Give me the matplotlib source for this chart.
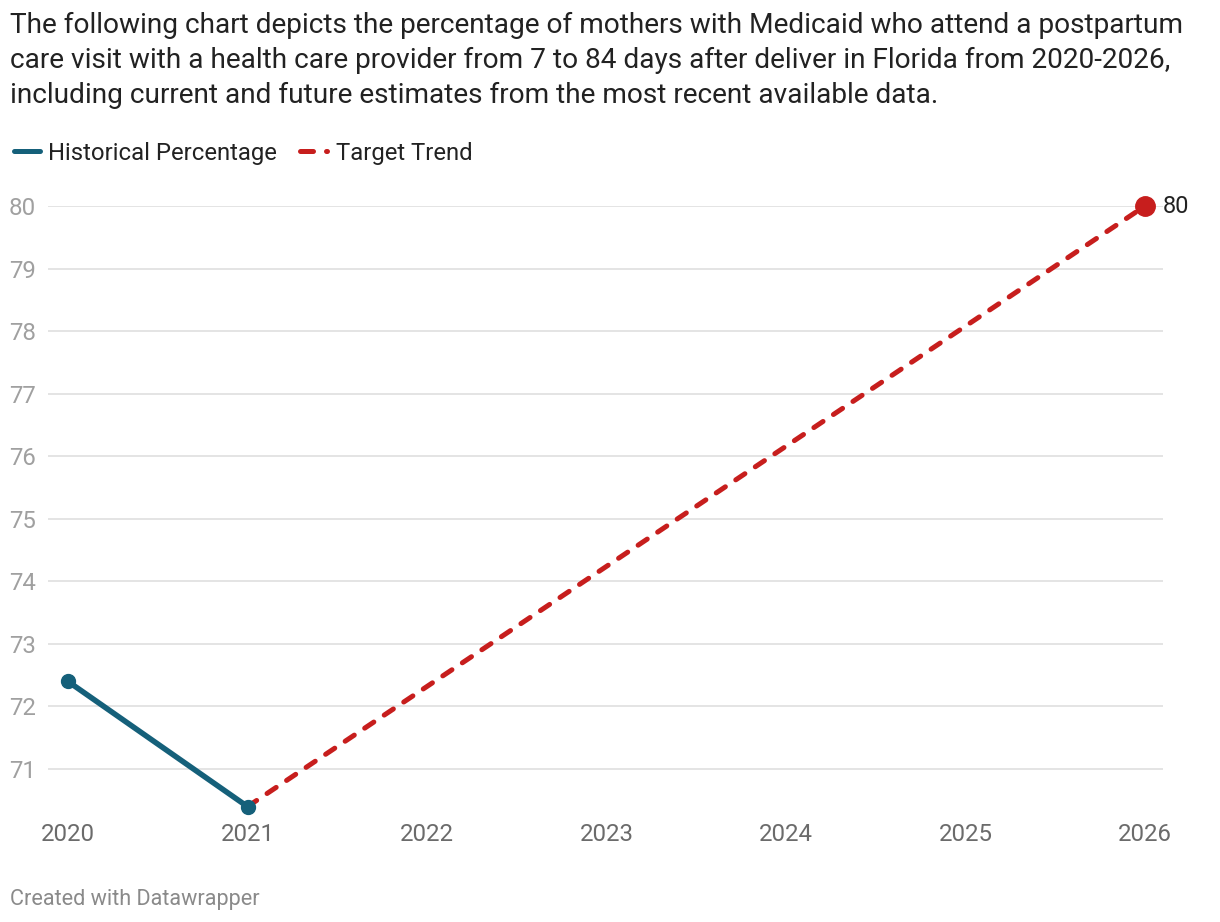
import matplotlib
matplotlib.use("Agg")
import matplotlib.pyplot as plt
from matplotlib.lines import Line2D

plt.rcParams['font.family'] = ['Roboto', 'DejaVu Sans']

hist_years = [2020, 2021]
hist_values = [72.4, 70.4]
target_years = [2021, 2026]
target_values = [70.4, 80]
y_ticks = [71, 72, 73, 74, 75, 76, 77, 78, 79, 80]
x_ticks = [2020, 2021, 2022, 2023, 2024, 2025, 2026]

BLUE = '#15607a'
RED = '#c71e1d'

W, H = 1220, 922
fig = plt.figure(figsize=(W / 100, H / 100), dpi=100)

def fx(px):
    return px / W

def fy(py):
    return 1 - py / H

ax_left, ax_right, ax_top, ax_bottom = 48, 1163, 206, 810
ax = fig.add_axes([fx(ax_left), fy(ax_bottom), fx(ax_right - ax_left), fy(ax_top) - fy(ax_bottom)])
ax.set_xlim(2020 - 20 / 179.5, 2026 + 18 / 179.5)
ax.set_ylim(80 - (ax_bottom - ax_top) / 62.56, 80)

for s in ax.spines.values():
    s.set_visible(False)
ax.set_yticks(y_ticks)
ax.set_yticklabels([str(v) for v in y_ticks])
ax.set_xticks(x_ticks)
ax.set_xticklabels([str(v) for v in x_ticks])
ax.tick_params(axis='y', length=0, pad=8.6, labelsize=17.3, labelcolor='#a0a0a0')
ax.tick_params(axis='x', length=0, pad=9, labelsize=17.3, labelcolor='#6b6b6b')
ax.grid(axis='y', color='#e2e2e2', linewidth=1.3)
ax.set_axisbelow(True)

ax.plot(target_years, target_values, color=RED, linewidth=3.6,
        dashes=(2.2, 2.5), dash_capstyle='round', zorder=3, clip_on=False)
ax.plot(hist_years, hist_values, color=BLUE, linewidth=4.0, solid_capstyle='round',
        marker='o', markersize=10, zorder=4, clip_on=False)
ax.plot([target_years[-1]], [target_values[-1]], 'o', color=RED, markersize=14,
        zorder=5, clip_on=False)
ax.annotate(f"{target_values[-1]:g}", (target_years[-1], target_values[-1]),
            xytext=(13, 0), textcoords='offset points', va='center', ha='left',
            fontsize=17, color='#222222')

title = ("The following chart depicts the percentage of mothers with Medicaid who attend a postpartum\n"
         "care visit with a health care provider from 7 to 84 days after deliver in Florida from 2020-2026,\n"
         "including current and future estimates from the most recent available data.")
fig.text(fx(10), fy(12), title, ha='left', va='top', fontsize=20.2, color='#222222',
         linespacing=1.38)

# legend
LY = 151
fig.add_artist(Line2D([fx(14), fx(40)], [fy(LY), fy(LY)], color=BLUE, linewidth=3.6,
                      solid_capstyle='round'))
fig.text(fx(48), fy(LY), 'Historical Percentage', ha='left', va='center_baseline', fontsize=17.2, color='#222222')
fig.add_artist(Line2D([fx(300), fx(313)], [fy(LY), fy(LY)], color=RED, linewidth=3.6,
                      solid_capstyle='round'))
fig.add_artist(Line2D([fx(326), fx(327)], [fy(LY), fy(LY)], color=RED, linewidth=3.6,
                      solid_capstyle='round'))
fig.text(fx(336), fy(LY), 'Target Trend', ha='left', va='center_baseline', fontsize=17.2, color='#222222')

fig.text(fx(10), fy(899), 'Created with Datawrapper', ha='left', va='center', fontsize=15.6,
         color='#8a8a8a')

fig.savefig('out.png', dpi=100, facecolor='white')
